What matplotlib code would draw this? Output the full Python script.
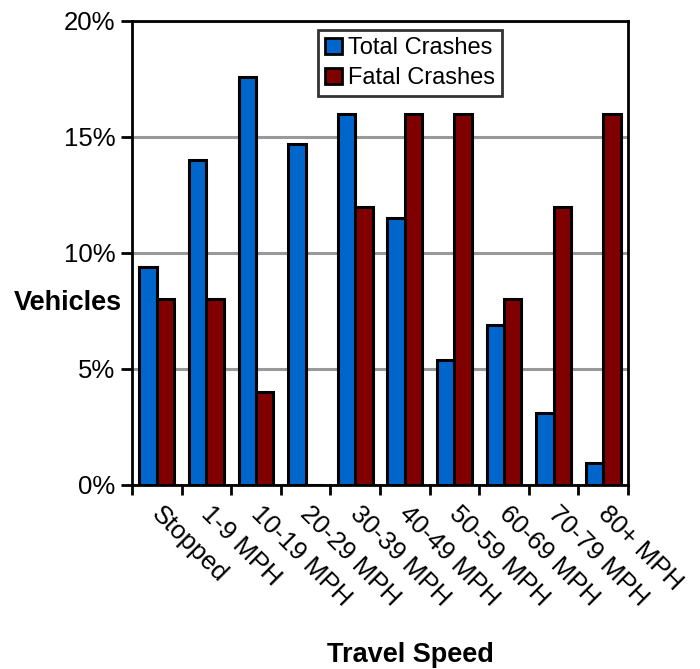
import numpy as np
import matplotlib.pyplot as plt
import matplotlib.transforms as mtransforms
from matplotlib.ticker import FuncFormatter

categories = ["Stopped", "1-9 MPH", "10-19 MPH", "20-29 MPH", "30-39 MPH",
              "40-49 MPH", "50-59 MPH", "60-69 MPH", "70-79 MPH", "80+ MPH"]
total_crashes = [9.4, 14.0, 17.6, 14.7, 16.0, 11.5, 5.4, 6.9, 3.1, 0.95]
fatal_crashes = [8.0, 8.0, 4.0, 0.0, 12.0, 16.0, 16.0, 8.0, 12.0, 16.0]

plt.rcParams['font.family'] = ['Liberation Sans', 'DejaVu Sans']

fig = plt.figure(figsize=(7, 6.69), dpi=100)
ax = fig.add_axes([132/700, 1-485/669, 496/700, 464/669])

x = np.arange(len(categories))
w = 0.35
ax.bar(x - w/2, total_crashes, w, color="#0066cc", edgecolor="black", linewidth=2.2,
       label="Total Crashes", zorder=3)
ax.bar(x + w/2, fatal_crashes, w, color="#800000", edgecolor="black", linewidth=2.2,
       label="Fatal Crashes", zorder=3)

ax.set_xlim(-0.5, len(categories) - 0.5)
ax.set_ylim(0, 20)
ax.set_yticks([0, 5, 10, 15, 20])
ax.yaxis.set_major_formatter(FuncFormatter(lambda v, p: f"{v:.0f}%"))
ax.yaxis.grid(True, color="#999999", linewidth=2.2, zorder=0)

ax.set_xticks(np.arange(len(categories) + 1) - 0.5)
ax.set_xticklabels([])
ax.set_xticks(x, minor=True)
ax.set_xticklabels(categories, minor=True, rotation=-45, ha="left", va="top",
                   rotation_mode="anchor", fontsize=18.5)
ax.tick_params(axis="x", which="minor", length=0, pad=12)
ax.tick_params(axis="x", which="major", length=7, width=2)
ax.tick_params(axis="y", length=8, width=2, labelsize=18.5, pad=4)

# nudge the slanted labels a bit to the right
shift = mtransforms.ScaledTranslation(7/100, 0, fig.dpi_scale_trans)
for lab in ax.get_xticklabels(minor=True):
    lab.set_transform(lab.get_transform() + shift)

for s in ax.spines.values():
    s.set_linewidth(2)
    s.set_zorder(4)

fig.text(122/700, 1-303/669, "Vehicles", fontsize=19.5, fontweight="bold",
         ha="right", va="center")
fig.text(410/700, 1-655/669, "Travel Speed", fontsize=19.5, fontweight="bold",
         ha="center", va="center")

leg = ax.legend(loc="upper left", bbox_to_anchor=((318-132)/496, (485-30)/464),
                fontsize=17, frameon=True, fancybox=False, edgecolor="black",
                handlelength=0.7, handleheight=0.7, handletextpad=0.25,
                borderpad=0.3, labelspacing=0.35, borderaxespad=0)
leg.get_frame().set_linewidth(2)
for h in leg.legend_handles:
    h.set_linewidth(2)

fig.savefig("out.png", dpi=100)
